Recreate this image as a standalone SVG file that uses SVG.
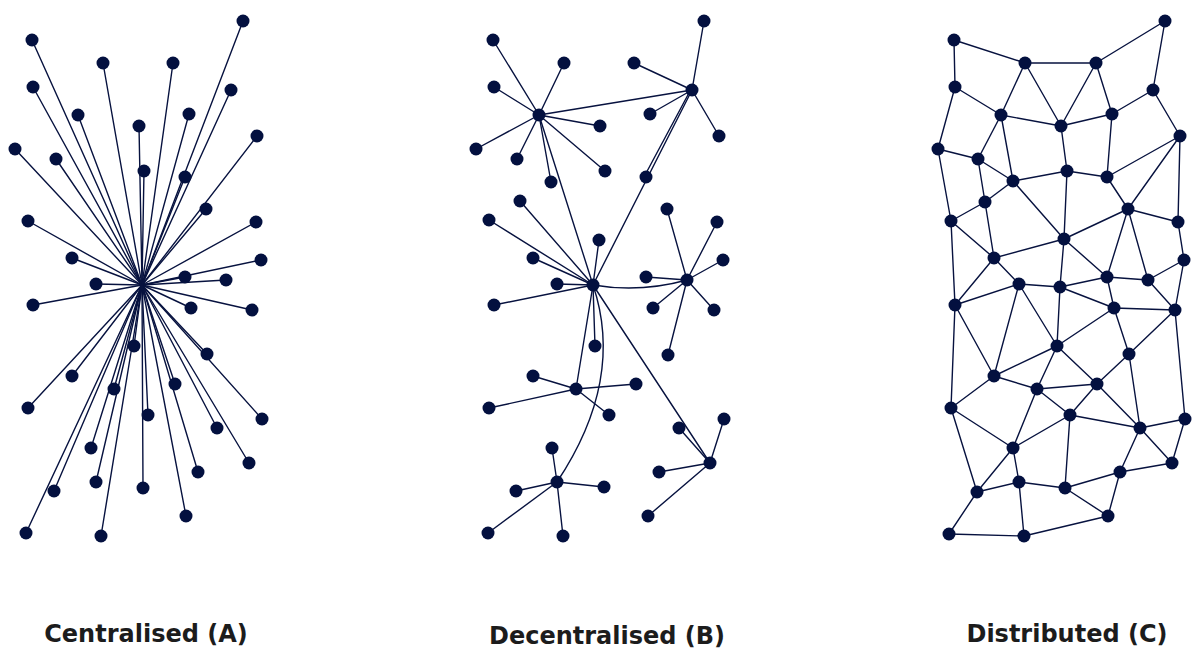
<svg xmlns="http://www.w3.org/2000/svg" width="1192" height="648" viewBox="0 0 1192 648">
<style>
  .edge line, .edge path { stroke: #07123f; stroke-width: 1.4; fill: none; stroke-linecap: round; }
  circle { fill: #03103f; }
  .label { font-family: "DejaVu Sans", "Liberation Sans", sans-serif; font-weight: 700; font-size: 24px; fill: #1c1c1c; text-anchor: middle; }
</style>
<rect width="1192" height="648" fill="#ffffff"/>

<!-- ===== Panel A: centralised star, every node wired to one hub ===== -->
<g id="connectors-a" class="edge">
  <line x1="142" y1="285" x2="32" y2="40"/><line x1="142" y1="285" x2="103" y2="63"/><line x1="142" y1="285" x2="173" y2="63"/>
  <line x1="142" y1="285" x2="243" y2="21"/><line x1="142" y1="285" x2="33" y2="87"/><line x1="142" y1="285" x2="231" y2="90"/>
  <line x1="142" y1="285" x2="78" y2="115"/><line x1="142" y1="285" x2="189" y2="114"/><line x1="142" y1="285" x2="139" y2="126"/>
  <line x1="142" y1="285" x2="257" y2="136"/><line x1="142" y1="285" x2="15" y2="149"/><line x1="142" y1="285" x2="56" y2="159"/>
  <line x1="142" y1="285" x2="144" y2="171"/><line x1="142" y1="285" x2="185" y2="177"/><line x1="142" y1="285" x2="206" y2="209"/>
  <line x1="142" y1="285" x2="28" y2="221"/><line x1="142" y1="285" x2="256" y2="222"/><line x1="142" y1="285" x2="72" y2="258"/>
  <line x1="142" y1="285" x2="261" y2="260"/><line x1="142" y1="285" x2="96" y2="284"/><line x1="142" y1="285" x2="185" y2="277"/>
  <line x1="142" y1="285" x2="226" y2="280"/><line x1="142" y1="285" x2="33" y2="305"/><line x1="142" y1="285" x2="191" y2="308"/>
  <line x1="142" y1="285" x2="252" y2="310"/><line x1="142" y1="285" x2="134" y2="346"/><line x1="142" y1="285" x2="207" y2="354"/>
  <line x1="142" y1="285" x2="72" y2="376"/><line x1="142" y1="285" x2="114" y2="389"/><line x1="142" y1="285" x2="175" y2="384"/>
  <line x1="142" y1="285" x2="28" y2="408"/><line x1="142" y1="285" x2="148" y2="415"/><line x1="142" y1="285" x2="262" y2="419"/>
  <line x1="142" y1="285" x2="217" y2="428"/><line x1="142" y1="285" x2="91" y2="448"/><line x1="142" y1="285" x2="249" y2="463"/>
  <line x1="142" y1="285" x2="198" y2="472"/><line x1="142" y1="285" x2="54" y2="491"/><line x1="142" y1="285" x2="96" y2="482"/>
  <line x1="142" y1="285" x2="143" y2="488"/><line x1="142" y1="285" x2="186" y2="516"/><line x1="142" y1="285" x2="26" y2="533"/>
  <line x1="142" y1="285" x2="101" y2="536"/>
</g>
<g id="nodes-a">
  <g id="a1"><circle cx="32" cy="40" r="6.5"/></g><g id="a2"><circle cx="103" cy="63" r="6.5"/></g><g id="a3"><circle cx="173" cy="63" r="6.5"/></g>
  <g id="a4"><circle cx="243" cy="21" r="6.5"/></g><g id="a5"><circle cx="33" cy="87" r="6.5"/></g><g id="a6"><circle cx="231" cy="90" r="6.5"/></g>
  <g id="a7"><circle cx="78" cy="115" r="6.5"/></g><g id="a8"><circle cx="189" cy="114" r="6.5"/></g><g id="a9"><circle cx="139" cy="126" r="6.5"/></g>
  <g id="a10"><circle cx="257" cy="136" r="6.5"/></g><g id="a11"><circle cx="15" cy="149" r="6.5"/></g><g id="a12"><circle cx="56" cy="159" r="6.5"/></g>
  <g id="a13"><circle cx="144" cy="171" r="6.5"/></g><g id="a14"><circle cx="185" cy="177" r="6.5"/></g><g id="a15"><circle cx="206" cy="209" r="6.5"/></g>
  <g id="a16"><circle cx="28" cy="221" r="6.5"/></g><g id="a17"><circle cx="256" cy="222" r="6.5"/></g><g id="a18"><circle cx="72" cy="258" r="6.5"/></g>
  <g id="a19"><circle cx="261" cy="260" r="6.5"/></g><g id="a20"><circle cx="96" cy="284" r="6.5"/></g><g id="a21"><circle cx="185" cy="277" r="6.5"/></g>
  <g id="a22"><circle cx="226" cy="280" r="6.5"/></g><g id="a23"><circle cx="33" cy="305" r="6.5"/></g><g id="a24"><circle cx="191" cy="308" r="6.5"/></g>
  <g id="a25"><circle cx="252" cy="310" r="6.5"/></g><g id="a26"><circle cx="134" cy="346" r="6.5"/></g><g id="a27"><circle cx="207" cy="354" r="6.5"/></g>
  <g id="a28"><circle cx="72" cy="376" r="6.5"/></g><g id="a29"><circle cx="114" cy="389" r="6.5"/></g><g id="a30"><circle cx="175" cy="384" r="6.5"/></g>
  <g id="a31"><circle cx="28" cy="408" r="6.5"/></g><g id="a32"><circle cx="148" cy="415" r="6.5"/></g><g id="a33"><circle cx="262" cy="419" r="6.5"/></g>
  <g id="a34"><circle cx="217" cy="428" r="6.5"/></g><g id="a35"><circle cx="91" cy="448" r="6.5"/></g><g id="a36"><circle cx="249" cy="463" r="6.5"/></g>
  <g id="a37"><circle cx="198" cy="472" r="6.5"/></g><g id="a38"><circle cx="54" cy="491" r="6.5"/></g><g id="a39"><circle cx="96" cy="482" r="6.5"/></g>
  <g id="a40"><circle cx="143" cy="488" r="6.5"/></g><g id="a41"><circle cx="186" cy="516" r="6.5"/></g><g id="a42"><circle cx="26" cy="533" r="6.5"/></g>
  <g id="a43"><circle cx="101" cy="536" r="6.5"/></g>
</g>

<!-- ===== Panel B: decentralised, several local hubs joined together ===== -->
<g id="connectors-b" class="edge">
  <!-- hub to hub -->
  <line x1="539" y1="115" x2="692" y2="90"/>
  <line x1="539" y1="115" x2="593" y2="285"/>
  <line x1="692" y1="90" x2="593" y2="285"/>
  <path d="M593,285 Q640,293 687,280"/>
  <line x1="593" y1="285" x2="576" y2="389"/>
  <path d="M593,285 Q625,380 557,482"/>
  <line x1="593" y1="285" x2="710" y2="463"/>
  <!-- hub 1 -->
  <line x1="539" y1="115" x2="493" y2="40"/><line x1="539" y1="115" x2="564" y2="63"/><line x1="539" y1="115" x2="494" y2="87"/>
  <line x1="539" y1="115" x2="600" y2="126"/><line x1="539" y1="115" x2="476" y2="149"/><line x1="539" y1="115" x2="517" y2="159"/>
  <line x1="539" y1="115" x2="551" y2="182"/><line x1="539" y1="115" x2="605" y2="171"/>
  <!-- hub 2 -->
  <line x1="692" y1="90" x2="704" y2="21"/><line x1="692" y1="90" x2="634" y2="63"/><line x1="692" y1="90" x2="650" y2="114"/>
  <line x1="692" y1="90" x2="719" y2="136"/><line x1="690" y1="91" x2="644" y2="177"/>
  <!-- central hub -->
  <line x1="593" y1="285" x2="520" y2="201"/><line x1="593" y1="285" x2="489" y2="220"/><line x1="593" y1="285" x2="599" y2="240"/>
  <line x1="593" y1="285" x2="533" y2="258"/><line x1="593" y1="285" x2="557" y2="284"/><line x1="593" y1="285" x2="494" y2="305"/>
  <line x1="593" y1="285" x2="595" y2="346"/>
  <!-- hub 3 -->
  <line x1="687" y1="280" x2="667" y2="209"/><line x1="687" y1="280" x2="717" y2="222"/><line x1="687" y1="280" x2="723" y2="260"/>
  <line x1="687" y1="280" x2="646" y2="277"/><line x1="687" y1="280" x2="653" y2="308"/><line x1="687" y1="280" x2="714" y2="310"/>
  <line x1="687" y1="280" x2="668" y2="355"/>
  <!-- hub 4 -->
  <line x1="576" y1="389" x2="533" y2="376"/><line x1="576" y1="389" x2="636" y2="384"/><line x1="576" y1="389" x2="489" y2="408"/>
  <line x1="576" y1="389" x2="609" y2="415"/>
  <!-- hub 5 -->
  <line x1="557" y1="482" x2="552" y2="448"/><line x1="557" y1="482" x2="516" y2="491"/><line x1="557" y1="482" x2="604" y2="487"/>
  <line x1="557" y1="482" x2="488" y2="533"/><line x1="557" y1="482" x2="563" y2="536"/>
  <!-- hub 6 -->
  <line x1="710" y1="463" x2="679" y2="428"/><line x1="710" y1="463" x2="724" y2="419"/><line x1="710" y1="463" x2="659" y2="472"/>
  <line x1="710" y1="463" x2="648" y2="516"/>
</g>
<g id="nodes-b">
  <g id="b-hub1"><circle cx="539" cy="115" r="6.5"/></g><g id="b-hub2"><circle cx="692" cy="90" r="6.5"/></g>
  <g id="b-hub-centre"><circle cx="593" cy="285" r="6.5"/></g><g id="b-hub3"><circle cx="687" cy="280" r="6.5"/></g>
  <g id="b-hub4"><circle cx="576" cy="389" r="6.5"/></g><g id="b-hub5"><circle cx="557" cy="482" r="6.5"/></g>
  <g id="b-hub6"><circle cx="710" cy="463" r="6.5"/></g>
  <g id="b1"><circle cx="493" cy="40" r="6.5"/></g><g id="b2"><circle cx="564" cy="63" r="6.5"/></g><g id="b3"><circle cx="494" cy="87" r="6.5"/></g>
  <g id="b4"><circle cx="600" cy="126" r="6.5"/></g><g id="b5"><circle cx="476" cy="149" r="6.5"/></g><g id="b6"><circle cx="517" cy="159" r="6.5"/></g>
  <g id="b7"><circle cx="551" cy="182" r="6.5"/></g><g id="b8"><circle cx="605" cy="171" r="6.5"/></g>
  <g id="b9"><circle cx="704" cy="21" r="6.5"/></g><g id="b10"><circle cx="634" cy="63" r="6.5"/></g><g id="b11"><circle cx="650" cy="114" r="6.5"/></g>
  <g id="b12"><circle cx="719" cy="136" r="6.5"/></g><g id="b13"><circle cx="646" cy="177" r="6.5"/></g>
  <g id="b14"><circle cx="520" cy="201" r="6.5"/></g><g id="b15"><circle cx="489" cy="220" r="6.5"/></g><g id="b16"><circle cx="599" cy="240" r="6.5"/></g>
  <g id="b17"><circle cx="533" cy="258" r="6.5"/></g><g id="b18"><circle cx="557" cy="284" r="6.5"/></g><g id="b19"><circle cx="494" cy="305" r="6.5"/></g>
  <g id="b20"><circle cx="595" cy="346" r="6.5"/></g>
  <g id="b21"><circle cx="667" cy="209" r="6.5"/></g><g id="b22"><circle cx="717" cy="222" r="6.5"/></g><g id="b23"><circle cx="723" cy="260" r="6.5"/></g>
  <g id="b24"><circle cx="646" cy="277" r="6.5"/></g><g id="b25"><circle cx="653" cy="308" r="6.5"/></g><g id="b26"><circle cx="714" cy="310" r="6.5"/></g>
  <g id="b27"><circle cx="668" cy="355" r="6.5"/></g>
  <g id="b28"><circle cx="533" cy="376" r="6.5"/></g><g id="b29"><circle cx="636" cy="384" r="6.5"/></g><g id="b30"><circle cx="489" cy="408" r="6.5"/></g>
  <g id="b31"><circle cx="609" cy="415" r="6.5"/></g>
  <g id="b32"><circle cx="552" cy="448" r="6.5"/></g><g id="b33"><circle cx="516" cy="491" r="6.5"/></g><g id="b34"><circle cx="604" cy="487" r="6.5"/></g>
  <g id="b35"><circle cx="488" cy="533" r="6.5"/></g><g id="b36"><circle cx="563" cy="536" r="6.5"/></g>
  <g id="b37"><circle cx="679" cy="428" r="6.5"/></g><g id="b38"><circle cx="724" cy="419" r="6.5"/></g><g id="b39"><circle cx="659" cy="472" r="6.5"/></g>
  <g id="b40"><circle cx="648" cy="516" r="6.5"/></g>
</g>

<!-- ===== Panel C: distributed mesh ===== -->
<g id="connectors-c" class="edge">
  <line x1="954" y1="40" x2="1025" y2="63"/><line x1="954" y1="40" x2="955" y2="87"/><line x1="1025" y1="63" x2="1096" y2="63"/>
  <line x1="1096" y1="63" x2="1165" y2="21"/><line x1="1165" y1="21" x2="1153" y2="90"/><line x1="1025" y1="63" x2="1001" y2="115"/>
  <line x1="1025" y1="63" x2="1061" y2="126"/><line x1="1096" y1="63" x2="1061" y2="126"/><line x1="1096" y1="63" x2="1112" y2="114"/>
  <line x1="955" y1="87" x2="1001" y2="115"/><line x1="955" y1="87" x2="938" y2="149"/><line x1="1153" y1="90" x2="1112" y2="114"/>
  <line x1="1153" y1="90" x2="1180" y2="136"/><line x1="1001" y1="115" x2="1061" y2="126"/><line x1="1061" y1="126" x2="1112" y2="114"/>
  <line x1="1001" y1="115" x2="978" y2="159"/><line x1="1001" y1="115" x2="1013" y2="181"/><line x1="1061" y1="126" x2="1067" y2="171"/>
  <line x1="1112" y1="114" x2="1107" y2="177"/><line x1="1180" y1="136" x2="1107" y2="177"/><line x1="1180" y1="136" x2="1128" y2="209"/>
  <line x1="1180" y1="136" x2="1178" y2="222"/><line x1="938" y1="149" x2="978" y2="159"/><line x1="938" y1="149" x2="951" y2="221"/>
  <line x1="978" y1="159" x2="1013" y2="181"/><line x1="978" y1="159" x2="985" y2="202"/><line x1="1067" y1="171" x2="1013" y2="181"/>
  <line x1="1067" y1="171" x2="1107" y2="177"/><line x1="1067" y1="171" x2="1064" y2="239"/><line x1="1107" y1="177" x2="1128" y2="209"/>
  <line x1="1013" y1="181" x2="985" y2="202"/><line x1="1013" y1="181" x2="1064" y2="239"/><line x1="985" y1="202" x2="951" y2="221"/>
  <line x1="985" y1="202" x2="994" y2="258"/><line x1="1128" y1="209" x2="1178" y2="222"/><line x1="1128" y1="209" x2="1064" y2="239"/>
  <line x1="1128" y1="209" x2="1107" y2="277"/><line x1="1128" y1="209" x2="1148" y2="280"/><line x1="951" y1="221" x2="994" y2="258"/>
  <line x1="951" y1="221" x2="955" y2="305"/><line x1="1178" y1="222" x2="1184" y2="260"/><line x1="1064" y1="239" x2="994" y2="258"/>
  <line x1="1064" y1="239" x2="1060" y2="287"/><line x1="1064" y1="239" x2="1107" y2="277"/><line x1="994" y1="258" x2="1019" y2="284"/>
  <line x1="994" y1="258" x2="955" y2="305"/><line x1="1184" y1="260" x2="1148" y2="280"/><line x1="1107" y1="277" x2="1148" y2="280"/>
  <line x1="1184" y1="260" x2="1175" y2="310"/>
  <line x1="1019" y1="284" x2="1060" y2="287"/><line x1="1060" y1="287" x2="1107" y2="277"/><line x1="1107" y1="277" x2="1114" y2="308"/>
  <line x1="1060" y1="287" x2="1114" y2="308"/><line x1="1148" y1="280" x2="1175" y2="310"/><line x1="1114" y1="308" x2="1175" y2="310"/>
  <line x1="955" y1="305" x2="1019" y2="284"/><line x1="955" y1="305" x2="994" y2="376"/><line x1="955" y1="305" x2="951" y2="408"/>
  <line x1="1019" y1="284" x2="994" y2="376"/><line x1="1019" y1="284" x2="1057" y2="346"/><line x1="1060" y1="287" x2="1057" y2="346"/>
  <line x1="1114" y1="308" x2="1057" y2="346"/><line x1="1114" y1="308" x2="1129" y2="354"/><line x1="1175" y1="310" x2="1129" y2="354"/>
  <line x1="1175" y1="310" x2="1185" y2="419"/><line x1="1057" y1="346" x2="994" y2="376"/><line x1="1057" y1="346" x2="1037" y2="389"/>
  <line x1="1057" y1="346" x2="1097" y2="384"/><line x1="1129" y1="354" x2="1097" y2="384"/><line x1="1129" y1="354" x2="1140" y2="428"/>
  <line x1="994" y1="376" x2="1037" y2="389"/><line x1="994" y1="376" x2="951" y2="408"/><line x1="1037" y1="389" x2="1097" y2="384"/>
  <line x1="1037" y1="389" x2="1070" y2="415"/><line x1="1097" y1="384" x2="1070" y2="415"/><line x1="1097" y1="384" x2="1140" y2="428"/>
  <line x1="1037" y1="389" x2="1013" y2="448"/><line x1="1070" y1="415" x2="1013" y2="448"/><line x1="1070" y1="415" x2="1140" y2="428"/>
  <line x1="1070" y1="415" x2="1065" y2="488"/><line x1="1185" y1="419" x2="1140" y2="428"/><line x1="1185" y1="419" x2="1172" y2="463"/>
  <line x1="1140" y1="428" x2="1172" y2="463"/><line x1="1140" y1="428" x2="1120" y2="472"/><line x1="1172" y1="463" x2="1120" y2="472"/>
  <line x1="951" y1="408" x2="1013" y2="448"/><line x1="951" y1="408" x2="977" y2="492"/><line x1="1013" y1="448" x2="977" y2="492"/>
  <line x1="1013" y1="448" x2="1019" y2="482"/><line x1="1019" y1="482" x2="977" y2="492"/><line x1="1019" y1="482" x2="1065" y2="488"/>
  <line x1="1019" y1="482" x2="1024" y2="536"/><line x1="1065" y1="488" x2="1120" y2="472"/><line x1="1065" y1="488" x2="1108" y2="516"/>
  <line x1="1120" y1="472" x2="1108" y2="516"/><line x1="977" y1="492" x2="949" y2="534"/><line x1="949" y1="534" x2="1024" y2="536"/>
  <line x1="1024" y1="536" x2="1108" y2="516"/>
</g>
<g id="nodes-c">
  <g id="c1"><circle cx="954" cy="40" r="6.5"/></g><g id="c2"><circle cx="1025" cy="63" r="6.5"/></g><g id="c3"><circle cx="1096" cy="63" r="6.5"/></g>
  <g id="c4"><circle cx="1165" cy="21" r="6.5"/></g><g id="c5"><circle cx="955" cy="87" r="6.5"/></g><g id="c6"><circle cx="1153" cy="90" r="6.5"/></g>
  <g id="c7"><circle cx="1001" cy="115" r="6.5"/></g><g id="c8"><circle cx="1061" cy="126" r="6.5"/></g><g id="c9"><circle cx="1112" cy="114" r="6.5"/></g>
  <g id="c10"><circle cx="1180" cy="136" r="6.5"/></g><g id="c11"><circle cx="938" cy="149" r="6.5"/></g><g id="c12"><circle cx="978" cy="159" r="6.5"/></g>
  <g id="c13"><circle cx="1067" cy="171" r="6.5"/></g><g id="c14"><circle cx="1107" cy="177" r="6.5"/></g><g id="c15"><circle cx="1013" cy="181" r="6.5"/></g>
  <g id="c16"><circle cx="985" cy="202" r="6.5"/></g><g id="c17"><circle cx="1128" cy="209" r="6.5"/></g><g id="c18"><circle cx="951" cy="221" r="6.5"/></g>
  <g id="c19"><circle cx="1178" cy="222" r="6.5"/></g><g id="c20"><circle cx="1064" cy="239" r="6.5"/></g><g id="c21"><circle cx="994" cy="258" r="6.5"/></g>
  <g id="c22"><circle cx="1184" cy="260" r="6.5"/></g><g id="c23"><circle cx="1019" cy="284" r="6.5"/></g><g id="c24"><circle cx="1060" cy="287" r="6.5"/></g>
  <g id="c25"><circle cx="1107" cy="277" r="6.5"/></g><g id="c26"><circle cx="1148" cy="280" r="6.5"/></g><g id="c27"><circle cx="955" cy="305" r="6.5"/></g>
  <g id="c28"><circle cx="1114" cy="308" r="6.5"/></g><g id="c29"><circle cx="1175" cy="310" r="6.5"/></g><g id="c30"><circle cx="1057" cy="346" r="6.5"/></g>
  <g id="c31"><circle cx="1129" cy="354" r="6.5"/></g><g id="c32"><circle cx="994" cy="376" r="6.5"/></g><g id="c33"><circle cx="1037" cy="389" r="6.5"/></g>
  <g id="c34"><circle cx="1097" cy="384" r="6.5"/></g><g id="c35"><circle cx="951" cy="408" r="6.5"/></g><g id="c36"><circle cx="1070" cy="415" r="6.5"/></g>
  <g id="c37"><circle cx="1185" cy="419" r="6.5"/></g><g id="c38"><circle cx="1140" cy="428" r="6.5"/></g><g id="c39"><circle cx="1013" cy="448" r="6.5"/></g>
  <g id="c40"><circle cx="1172" cy="463" r="6.5"/></g><g id="c41"><circle cx="1120" cy="472" r="6.5"/></g><g id="c42"><circle cx="1019" cy="482" r="6.5"/></g>
  <g id="c43"><circle cx="1065" cy="488" r="6.5"/></g><g id="c44"><circle cx="977" cy="492" r="6.5"/></g><g id="c45"><circle cx="1108" cy="516" r="6.5"/></g>
  <g id="c46"><circle cx="949" cy="534" r="6.5"/></g><g id="c47"><circle cx="1024" cy="536" r="6.5"/></g>
</g>

<!-- captions -->
<g id="captions">
  <text class="label" x="146" y="642">Centralised (A)</text>
  <text class="label" x="607" y="644">Decentralised (B)</text>
  <text class="label" x="1067" y="642">Distributed (C)</text>
</g>
</svg>
